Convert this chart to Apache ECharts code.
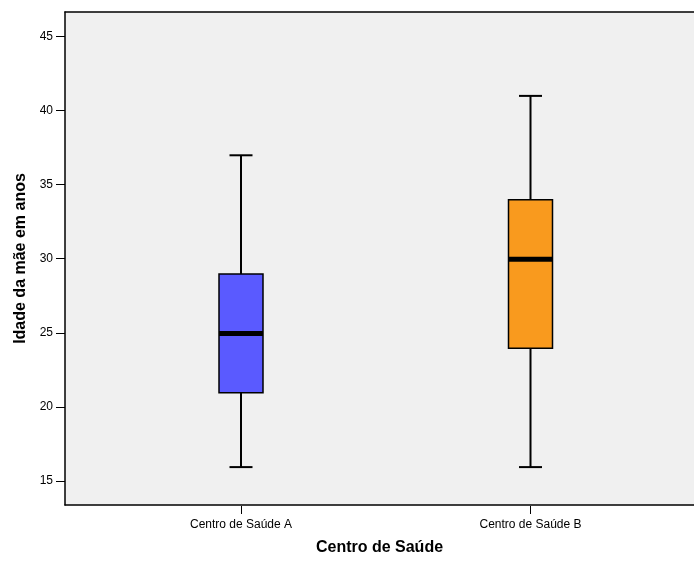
<!DOCTYPE html>
<html>
<head>
<meta charset="utf-8">
<script src="https://cdn.jsdelivr.net/npm/echarts@6/dist/echarts.min.js"></script>
<style>
html,body{margin:0;padding:0;background:#fff;}
#chart{width:694px;height:561px;}
</style>
</head>
<body>
<div id="chart"></div>
<script>
const categories = ['Centro de Saúde A', 'Centro de Saúde B'];
const mins = [16, 16];
const q1s = [21, 24];
const medians = [25, 30];
const q3s = [29, 34];
const maxs = [37, 41];
const boxColors = ['#5a5aff', '#f99a1e'];
const yTicks = [15, 20, 25, 30, 35, 40, 45];
const yMin = 13.38, yMax = 46.65;

const data = categories.map((c, i) => [i, mins[i], q1s[i], medians[i], q3s[i], maxs[i]]);

const chart = echarts.init(document.getElementById('chart'), null, {renderer: 'canvas'});
const font = 'Arial, "Liberation Sans", sans-serif';

function renderItem(params, api) {
  const idx = api.value(0);
  const pMin = api.coord([idx, api.value(1)]);
  const pQ1 = api.coord([idx, api.value(2)]);
  const pMed = api.coord([idx, api.value(3)]);
  const pQ3 = api.coord([idx, api.value(4)]);
  const pMax = api.coord([idx, api.value(5)]);
  const x = pMin[0];
  const hw = 22, cw = 11.5;
  const lineStyle = {stroke: '#000', lineWidth: 2};
  return {
    type: 'group',
    children: [
      {type: 'line', shape: {x1: x, y1: pMin[1], x2: x, y2: pQ1[1]}, style: lineStyle},
      {type: 'line', shape: {x1: x, y1: pQ3[1], x2: x, y2: pMax[1]}, style: lineStyle},
      {type: 'line', shape: {x1: x - cw, y1: pMin[1], x2: x + cw, y2: pMin[1]}, style: lineStyle},
      {type: 'line', shape: {x1: x - cw, y1: pMax[1], x2: x + cw, y2: pMax[1]}, style: lineStyle},
      {type: 'rect', shape: {x: x - hw, y: pQ3[1], width: hw * 2, height: pQ1[1] - pQ3[1]},
        style: {fill: boxColors[idx], stroke: '#000', lineWidth: 1.5}},
      {type: 'rect', shape: {x: x - hw, y: pMed[1] - 2.5, width: hw * 2, height: 5},
        style: {fill: '#000'}}
    ]
  };
}

const option = {
  animation: false,
  backgroundColor: '#ffffff',
  grid: [
    {left: 65, right: 0, top: 12, bottom: 55, show: true, backgroundColor: '#f0f0f0', borderWidth: 0},
    {left: 96.25, right: 18.75, top: 12, bottom: 55}
  ],
  xAxis: [
    {type: 'category', gridIndex: 0, data: categories, position: 'bottom',
      axisLine: {show: true, lineStyle: {color: '#000', width: 1.5}},
      axisTick: {show: false}, axisLabel: {show: false}, splitLine: {show: false},
      name: 'Centro de Saúde', nameLocation: 'middle', nameGap: 35,
      nameTextStyle: {fontFamily: font, fontSize: 16, fontWeight: 'bold', color: '#000'}},
    {type: 'category', gridIndex: 0, data: categories, position: 'top',
      axisLine: {show: true, lineStyle: {color: '#000', width: 1.5}},
      axisTick: {show: false}, axisLabel: {show: false}, splitLine: {show: false}},
    {type: 'category', gridIndex: 1, data: categories, position: 'bottom',
      axisLine: {show: false},
      axisTick: {show: true, alignWithLabel: true, length: 8, lineStyle: {color: '#000', width: 1}},
      axisLabel: {show: true, margin: 13, fontFamily: font, fontSize: 12, color: '#000'},
      splitLine: {show: false}}
  ],
  yAxis: [
    {type: 'value', gridIndex: 0, min: yMin, max: yMax,
      axisLine: {show: true, lineStyle: {color: '#000', width: 1.5}},
      axisTick: {show: true, length: 9, customValues: yTicks, lineStyle: {color: '#000', width: 1}},
      axisLabel: {show: true, margin: 12, customValues: yTicks, fontFamily: font, fontSize: 12, color: '#000'},
      splitLine: {show: false},
      name: 'Idade da mãe em anos', nameLocation: 'middle', nameGap: 34,
      nameTextStyle: {fontFamily: font, fontSize: 16, fontWeight: 'bold', color: '#000'}},
    {type: 'value', gridIndex: 1, min: yMin, max: yMax, show: false}
  ],
  series: [
    {type: 'custom', xAxisIndex: 2, yAxisIndex: 1, renderItem: renderItem,
      encode: {x: 0, y: [1, 2, 3, 4, 5]}, data: data, clip: false}
  ]
};
chart.setOption(option);
</script>
</body>
</html>
